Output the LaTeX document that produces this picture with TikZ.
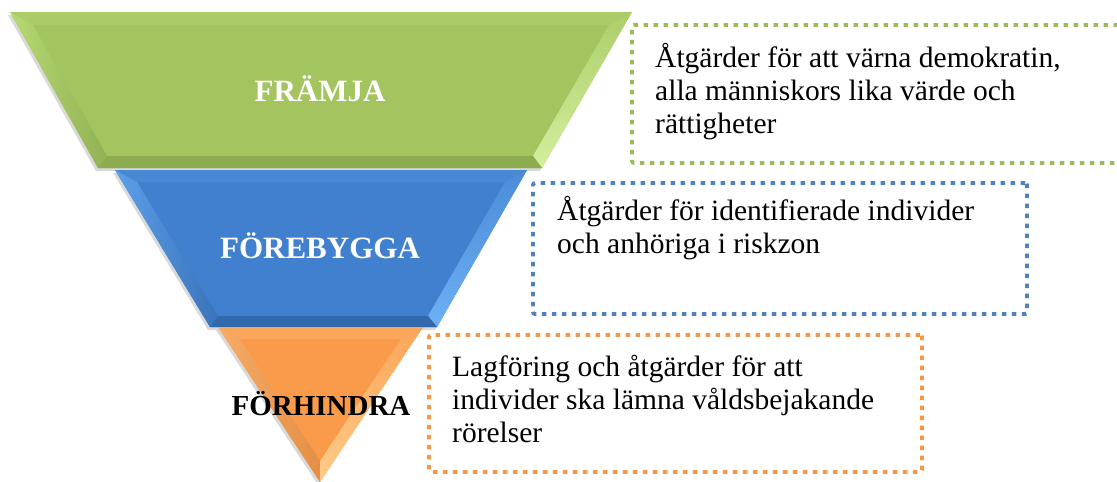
\documentclass[tikz,border=0pt]{standalone}
\usepackage{fontspec}
\setmainfont{Liberation Serif}
\usetikzlibrary{shadows}

\definecolor{gbody}{RGB}{163,196,95}
\definecolor{gtop}{RGB}{170,203,103}
\definecolor{gleft}{RGB}{182,218,114}
\definecolor{gright}{RGB}{172,206,106}
\definecolor{ghigh}{RGB}{212,238,158}
\definecolor{gbot}{RGB}{140,172,80}
\definecolor{bbody}{RGB}{64,128,206}
\definecolor{btop}{RGB}{72,137,214}
\definecolor{bleft}{RGB}{92,160,234}
\definecolor{bright}{RGB}{74,140,216}
\definecolor{bhigh}{RGB}{108,176,244}
\definecolor{bbot}{RGB}{50,104,172}
\definecolor{obody}{RGB}{249,155,75}
\definecolor{otop}{RGB}{250,166,92}
\definecolor{oleft}{RGB}{246,172,104}
\definecolor{oright}{RGB}{250,165,88}
\definecolor{ohigh}{RGB}{255,204,136}
\definecolor{lgreen}{RGB}{155,187,89}
\definecolor{lblue}{RGB}{79,129,189}
\definecolor{lorange}{RGB}{247,150,70}

\tikzset{
  tier/.style={font=\bfseries\fontsize{31}{31}\selectfont, text=white, anchor=base, inner sep=0pt},
  note/.style={font=\fontsize{29.5}{33}\selectfont, align=left, anchor=base west, inner sep=0pt},
  dotbox/.style={draw=#1, line width=3.8pt, dash pattern=on 4.5pt off 5.5pt,
    rounded corners=2pt, inner sep=0pt, outer sep=0pt, anchor=north west},
  funnelshadow/.style={drop shadow={shadow xshift=-2pt, shadow yshift=-3pt, opacity=.3}}
}

\begin{document}
\begin{tikzpicture}[x=1pt, y=-1pt]
    \useasboundingbox (0,0) rectangle (1117,482);
    \clip (0,0) rectangle (1117,482);

    % Funnel corners
    \coordinate (g1) at (10,12);   \coordinate (g2) at (632,12);
    \coordinate (g3) at (542,168); \coordinate (g4) at (98,168);
    \coordinate (gi1) at (33,25);   \coordinate (gi2) at (609,25);
    \coordinate (gi3) at (533,156); \coordinate (gi4) at (107,156);

    \coordinate (b1) at (115,170); \coordinate (b2) at (527,170);
    \coordinate (b3) at (437,327); \coordinate (b4) at (210,327);
    \coordinate (bi1) at (137,182); \coordinate (bi2) at (505,182);
    \coordinate (bi3) at (428,316); \coordinate (bi4) at (218,316);

    \coordinate (o1) at (218,327); \coordinate (o2) at (423,327);
    \coordinate (o3) at (320,482);
    \coordinate (oi1) at (240,339); \coordinate (oi2) at (401,339);
    \coordinate (oi3) at (320,461);

    % Green level
    \fill[gbody, funnelshadow] (g1) -- (g2) -- (g3) -- (g4) -- cycle;
    \fill[gtop] (g1) -- (g2) -- (gi2) -- (gi1) -- cycle;
    \shade[left color=gleft, right color=gbody!90!black] (g1) -- (gi1) -- (gi4) -- (g4) -- cycle;
    \shade[top color=gright, bottom color=ghigh] (g2) -- (g3) -- (gi3) -- (gi2) -- cycle;
    \fill[gbot] (g4) -- (gi4) -- (gi3) -- (g3) -- cycle;

    % Blue level
    \fill[bbody, funnelshadow] (b1) -- (b2) -- (b3) -- (b4) -- cycle;
    \fill[btop] (b1) -- (b2) -- (bi2) -- (bi1) -- cycle;
    \shade[left color=bleft, right color=bbody!90!black] (b1) -- (bi1) -- (bi4) -- (b4) -- cycle;
    \shade[top color=bright, bottom color=bhigh] (b2) -- (b3) -- (bi3) -- (bi2) -- cycle;
    \fill[bbot] (b4) -- (bi4) -- (bi3) -- (b3) -- cycle;

    % Orange level
    \fill[obody, funnelshadow] (o1) -- (o2) -- (o3) -- cycle;
    \fill[otop] (o1) -- (o2) -- (oi2) -- (oi1) -- cycle;
    \shade[left color=oleft, right color=obody!92!black] (o1) -- (oi1) -- (oi3) -- (o3) -- cycle;
    \shade[top color=oright, bottom color=ohigh] (o2) -- (o3) -- (oi3) -- (oi2) -- cycle;

    % Level names
    \node[tier] (framja) at (320,101) {FRÄMJA};
    \node[tier] (forebygga) at (320,258) {FÖREBYGGA};
    \node[tier, text=black, font=\bfseries\fontsize{29}{29}\selectfont] (forhindra) at (321,415) {FÖRHINDRA};

    % Dotted boxes
    \node[dotbox=lgreen, minimum width=498, minimum height=138] (boxfr) at (632,25) {};
    \node[dotbox=lblue, minimum width=494, minimum height=131] (boxfo) at (533,183) {};
    \node[dotbox=lorange, minimum width=493, minimum height=137] (boxfh) at (429,335) {};

    % Notes (base = last line)
    \node[note] (notefr) at (655,133) {Åtgärder för att värna demokratin,\\alla människors lika värde och\\rättigheter};
    \node[note] (notefo) at (557,253) {Åtgärder för identifierade individer\\och anhöriga i riskzon};
    \node[note] (notefh) at (452,442) {Lagföring och åtgärder för att\\individer ska lämna våldsbejakande\\rörelser};
\end{tikzpicture}
\end{document}
